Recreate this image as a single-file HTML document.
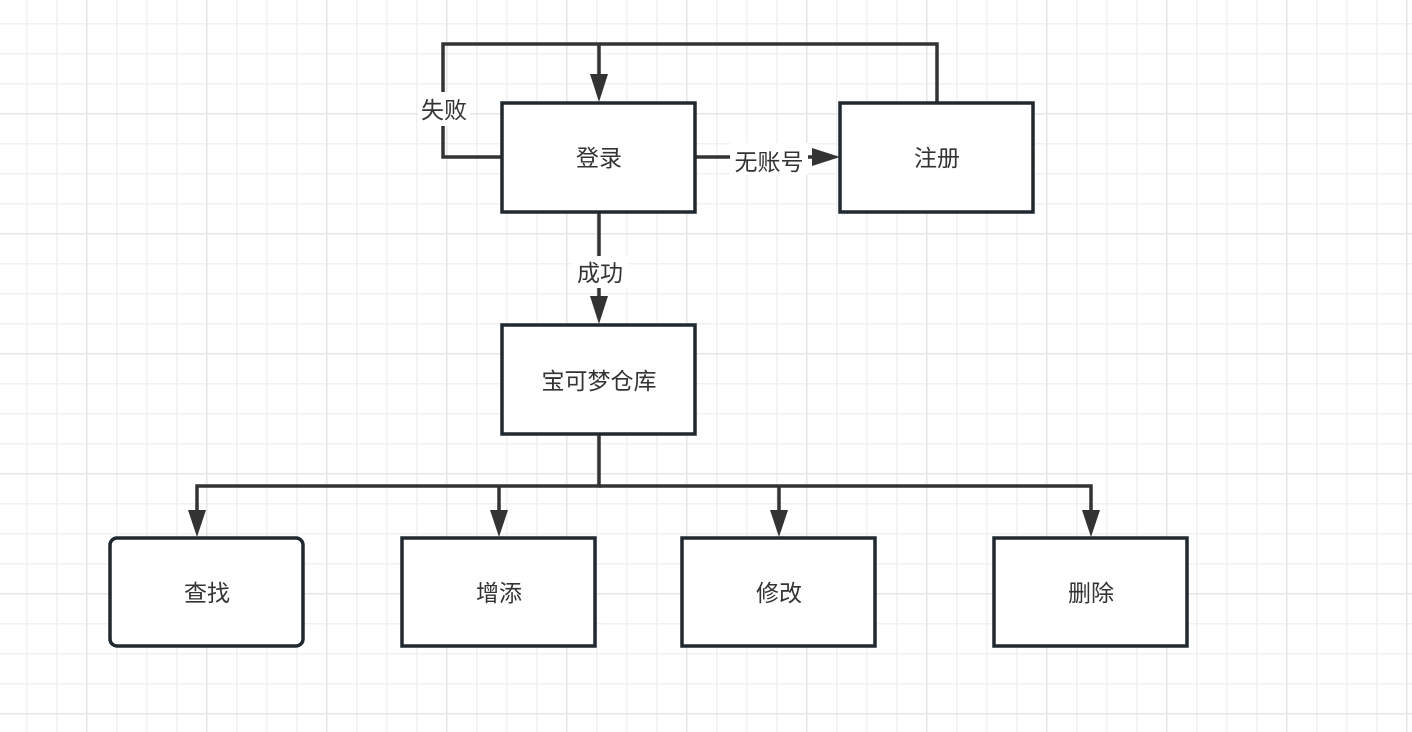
<!DOCTYPE html>
<html><head><meta charset="utf-8"><style>
html,body{margin:0;padding:0;background:#fff;}
svg{display:block;}
text{font-family:"Liberation Sans","Noto Sans CJK SC",sans-serif;font-size:23px;fill:#333;}
</style></head><body>
<svg width="1412" height="732" viewBox="0 0 1412 732" xmlns="http://www.w3.org/2000/svg">
<defs>
<pattern id="minor" x="26" y="23" width="30" height="30" patternUnits="userSpaceOnUse">
<path d="M0.5 0V30M0 0.5H30" stroke="#f1f1f1" stroke-width="2" fill="none"/>
</pattern>
<pattern id="major" x="86" y="113" width="120" height="120" patternUnits="userSpaceOnUse">
<path d="M0.5 0V120M0 0.5H120" stroke="#e6e6e6" stroke-width="2" fill="none"/>
</pattern>
</defs>
<rect width="1412" height="732" fill="#fff"/>
<rect width="1412" height="732" fill="url(#minor)"/>
<rect width="1412" height="732" fill="url(#major)"/>

<g stroke="#333" stroke-width="3.5" fill="none">
<polyline points="502,157 443,157 443,44 937,44 937,103"/>
<line x1="599" y1="44" x2="599" y2="90"/>
<line x1="695" y1="157" x2="828" y2="157"/>
<line x1="599" y1="212" x2="599" y2="312"/>
<polyline points="599,434 599,486 197,486 197,525"/>
<polyline points="599,486 1091,486 1091,525"/>
<line x1="499" y1="486" x2="499" y2="525"/>
<line x1="779" y1="486" x2="779" y2="525"/>
</g>
<g fill="#333">
<polygon points="590,74 608,74 599,102"/>
<polygon points="812,148 812,166 840,157"/>
<polygon points="590,296 608,296 599,324"/>
<polygon points="188,510 206,510 197,537"/>
<polygon points="490,510 508,510 499,537"/>
<polygon points="770,510 788,510 779,537"/>
<polygon points="1082,510 1100,510 1091,537"/>
</g>
<g fill="#fff">
<rect x="418" y="92" width="52" height="34"/>
<rect x="730" y="143" width="78" height="32"/>
<rect x="572" y="256" width="56" height="32"/>
</g>
<text x="444" y="118" text-anchor="middle">失败</text>
<text x="769" y="170" text-anchor="middle">无账号</text>
<text x="600" y="281" text-anchor="middle">成功</text>

<g stroke="#20292f" stroke-width="3.5" fill="#fff">
<rect x="502" y="103" width="193" height="109"/>
<rect x="840" y="103" width="193" height="109"/>
<rect x="502" y="325" width="193" height="109"/>
<rect x="110" y="538" width="193" height="108" rx="7"/>
<rect x="402" y="538" width="193" height="108"/>
<rect x="682" y="538" width="193" height="108"/>
<rect x="994" y="538" width="193" height="108"/>
</g>
<text x="599" y="166" text-anchor="middle">登录</text>
<text x="937" y="166" text-anchor="middle">注册</text>
<text x="599" y="389" text-anchor="middle">宝可梦仓库</text>
<text x="207" y="601" text-anchor="middle">查找</text>
<text x="499" y="601" text-anchor="middle">增添</text>
<text x="779" y="601" text-anchor="middle">修改</text>
<text x="1091" y="601" text-anchor="middle">删除</text>
</svg>
</body></html>
